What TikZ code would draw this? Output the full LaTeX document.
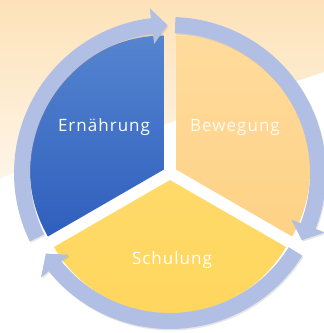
\documentclass[tikz,border=0pt]{standalone}
\usepackage{fontspec}
\newfontfamily\handfont{Open Sans}[LetterSpace=6]
\usetikzlibrary{shadows}
\definecolor{peach}{HTML}{FDE2B8}
\definecolor{peachlight}{HTML}{FEF5E8}
\definecolor{ringblue}{HTML}{B2BFE4}
\definecolor{bluetop}{HTML}{5584D0}
\definecolor{bluebot}{HTML}{2F5FBD}
\definecolor{orangetop}{HTML}{FFDB9C}
\definecolor{orangebot}{HTML}{FED286}
\definecolor{yellowtop}{HTML}{FFDA6A}
\definecolor{yellowbot}{HTML}{FFD65C}

\begin{document}
\begin{tikzpicture}[x=1pt,y=1pt,
    ringarrow/.style={fill=ringblue,drop shadow={opacity=0.2,shadow xshift=1pt,shadow yshift=-1.5pt}},
    label/.style={text=white,font=\handfont\fontsize{17}{19}\selectfont}]
     \useasboundingbox (0,0) rectangle (324,333);
     % background band
     \shade[top color=peach,bottom color=peachlight] (0,333) -- (324,333) -- (324,261) -- (0,155) -- cycle;
     \coordinate (C) at (170,160);
     \begin{scope}[shift={(C)}]
       % pie pieces
       \shade[top color=bluetop,bottom color=bluebot,shift={(150:7)}]
         (0,0) -- (90:134) arc[start angle=90,end angle=210,radius=134] -- cycle;
       \shade[top color=orangetop,bottom color=orangebot,shift={(30:7)}]
         (0,0) -- (-30:134) arc[start angle=-30,end angle=90,radius=134] -- cycle;
       \shade[top color=yellowtop,bottom color=yellowbot,shift={(270:7)}]
         (0,0) -- (210:134) arc[start angle=210,end angle=330,radius=134] -- cycle;
       % ring arrows
       \foreach \s in {206,88,-32}{
         \pgfmathsetmacro{\b}{\s-109}
         \pgfmathsetmacro{\t}{\s-115}
         \path[ringarrow] (\s:156) arc[start angle=\s,end angle=\b,radius=156]
           -- (\b:166) -- (\t:148) -- (\b:130) -- (\b:140)
           arc[start angle=\b,end angle=\s,radius=140] -- cycle;
       }
     \end{scope}
     \node[label] (ern) at (104,206) {Ernährung};
     \node[label,text=white!95!orange] (bew) at (235,206) {Bewegung};
     \node[label] (sch) at (172,73) {Schulung};
    \end{tikzpicture}
\end{document}
